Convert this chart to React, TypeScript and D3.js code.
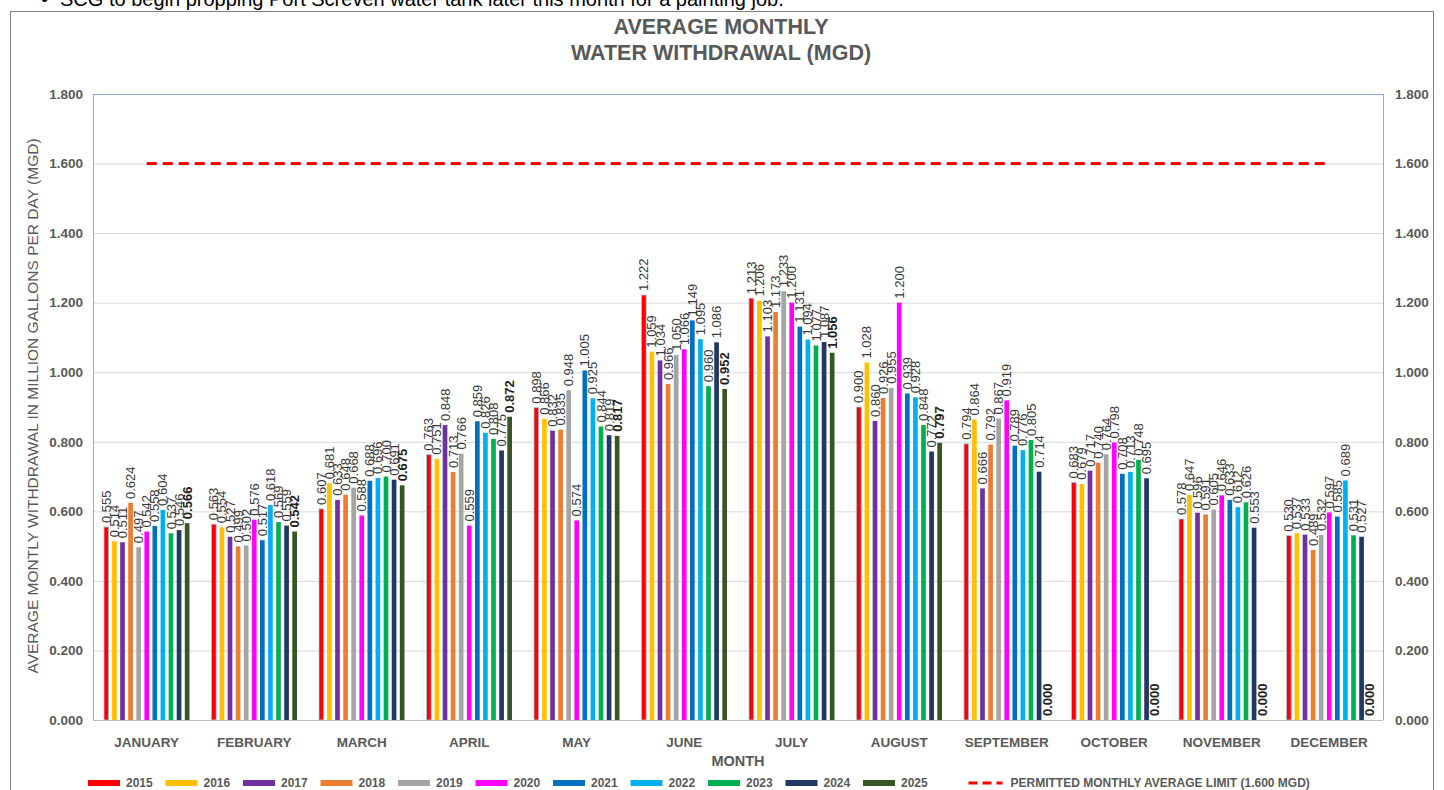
import React, { useRef, useEffect } from "react";
import * as d3 from "d3";

const MONTHS = ["JANUARY", "FEBRUARY", "MARCH", "APRIL", "MAY", "JUNE",
  "JULY", "AUGUST", "SEPTEMBER", "OCTOBER", "NOVEMBER", "DECEMBER"];
const YEARS = ["2015", "2016", "2017", "2018", "2019", "2020", "2021", "2022", "2023", "2024", "2025"];

const Y2015 = [0.555, 0.563, 0.607, 0.763, 0.898, 1.222, 1.213, 0.900, 0.794, 0.683, 0.578, 0.530];
const Y2016 = [0.514, 0.554, 0.681, 0.751, 0.866, 1.059, 1.206, 1.028, 0.864, 0.679, 0.647, 0.537];
const Y2017 = [0.511, 0.527, 0.633, 0.848, 0.832, 1.034, 1.103, 0.860, 0.666, 0.717, 0.596, 0.533];
const Y2018 = [0.624, 0.499, 0.648, 0.713, 0.835, 0.966, 1.173, 0.926, 0.792, 0.740, 0.591, 0.489];
const Y2019 = [0.497, 0.502, 0.668, 0.766, 0.948, 1.050, 1.233, 0.955, 0.867, 0.764, 0.605, 0.532];
const Y2020 = [0.542, 0.576, 0.588, 0.559, 0.574, 1.066, 1.200, 1.200, 0.919, 0.798, 0.646, 0.597];
const Y2021 = [0.558, 0.517, 0.688, 0.859, 1.005, 1.149, 1.131, 0.939, 0.789, 0.708, 0.633, 0.585];
const Y2022 = [0.604, 0.618, 0.696, 0.826, 0.925, 1.095, 1.094, 0.928, 0.776, 0.713, 0.612, 0.689];
const Y2023 = [0.537, 0.569, 0.700, 0.808, 0.844, 0.960, 1.077, 0.848, 0.805, 0.748, 0.626, 0.531];
const Y2024 = [0.546, 0.559, 0.691, 0.775, 0.819, 1.086, 1.087, 0.772, 0.714, 0.695, 0.553, 0.527];
const Y2025 = [0.566, 0.542, 0.675, 0.872, 0.817, 0.952, 1.056, 0.797, 0.000, 0.000, 0.000, 0.000];

const LIMIT = 1.6;
const LIMIT_LABEL = "PERMITTED MONTHLY AVERAGE LIMIT (1.600 MGD)";
const Y_TICKS = [0, 0.2, 0.4, 0.6, 0.8, 1.0, 1.2, 1.4, 1.6, 1.8];

const COLORS = ["#FF0000", "#FFC000", "#7030A0", "#ED7D31", "#A5A5A5", "#FF00FF",
  "#0070C0", "#00B0F0", "#00B050", "#203864", "#375623"];

const FONT = "'Liberation Sans', Arial, sans-serif";

export default function App() {
  const svgRef = useRef<SVGSVGElement | null>(null);

  useEffect(() => {
    const width = 1444;
    const height = 790;
    const svg = d3.select(svgRef.current);
    svg.selectAll("*").remove();

    const series = [Y2015, Y2016, Y2017, Y2018, Y2019, Y2020, Y2021, Y2022, Y2023, Y2024, Y2025];
    const data = YEARS.flatMap((year, i) =>
      MONTHS.map((month, m) => ({ year, month, value: series[i][m], idx: i })));

    const plot = { left: 93, right: 1383, top: 94, bottom: 720 };

    svg.append("rect").attr("width", width).attr("height", height).attr("fill", "#fff");

    // text of the page above the chart, cut off at the top
    svg.append("text")
      .attr("x", 41).attr("y", 6)
      .style("font-family", FONT).style("font-size", "20px").attr("fill", "#000")
      .text("•");
    svg.append("text")
      .attr("x", 60).attr("y", 6)
      .style("font-family", FONT).style("font-size", "20px").attr("fill", "#000")
      .text("SCG to begin propping Port Screven water tank later this month for a painting job.");

    // chart frame
    svg.append("rect")
      .attr("x", 10.5).attr("y", 11.5)
      .attr("width", 1423).attr("height", 800)
      .attr("fill", "#fff").attr("stroke", "#7f7f7f");

    const x0 = d3.scaleBand().domain(MONTHS).range([plot.left, plot.right]);
    const x1 = d3.scaleBand().domain(YEARS).range([11, x0.bandwidth() - 11]).paddingInner(0.42);
    const y = d3.scaleLinear().domain([0, 1.8]).range([plot.bottom, plot.top]);

    // gridlines
    svg.append("g")
      .selectAll("line")
      .data(Y_TICKS.slice(1))
      .enter()
      .append("line")
      .attr("x1", plot.left).attr("x2", plot.right)
      .attr("y1", d => y(d) + 0.5).attr("y2", d => y(d) + 0.5)
      .attr("stroke", d => (d === 1.8 ? "#8FAADC" : "#D9D9D9"));

    svg.append("line")
      .attr("x1", plot.left + 0.5).attr("x2", plot.left + 0.5)
      .attr("y1", plot.top).attr("y2", plot.bottom)
      .attr("stroke", "#8FAADC");
    svg.append("line")
      .attr("x1", plot.right + 0.5).attr("x2", plot.right + 0.5)
      .attr("y1", plot.top).attr("y2", plot.bottom)
      .attr("stroke", "#8FAADC");

    // bars
    svg.append("g")
      .selectAll("rect")
      .data(data)
      .enter()
      .append("rect")
      .attr("x", d => (x0(d.month) as number) + (x1(d.year) as number))
      .attr("y", d => y(d.value))
      .attr("width", x1.bandwidth())
      .attr("height", d => plot.bottom - y(d.value))
      .attr("fill", d => COLORS[d.idx])
      .attr("stroke", d => (d.idx === 0 ? "#9DC3E6" : "none"))
      .attr("stroke-width", 0.8);

    // baseline
    svg.append("line")
      .attr("x1", plot.left).attr("x2", plot.right)
      .attr("y1", plot.bottom + 0.5).attr("y2", plot.bottom + 0.5)
      .attr("stroke", "#BFBFBF");

    // data labels
    svg.append("g")
      .selectAll("text")
      .data(data)
      .enter()
      .append("text")
      .attr("transform", d => {
        const cx = (x0(d.month) as number) + (x1(d.year) as number) + x1.bandwidth() / 2;
        return `translate(${cx},${y(d.value) - 4}) rotate(-90)`;
      })
      .attr("dy", "0.35em")
      .style("font-family", FONT)
      .style("font-size", "13px")
      .style("font-weight", d => (d.idx === 10 ? "bold" : "normal"))
      .attr("fill", d => (d.idx === 10 ? "#1f1f1f" : "#3a3a3a"))
      .text(d => d3.format(".3f")(d.value));

    // permitted limit line
    const line = d3.line<string>()
      .x(d => (x0(d) as number) + x0.bandwidth() / 2)
      .y(() => y(LIMIT));
    svg.append("path")
      .attr("d", line(MONTHS))
      .attr("fill", "none")
      .attr("stroke", "#FF0000")
      .attr("stroke-width", 3)
      .attr("stroke-dasharray", "10,6");

    // y axes
    const yFmt = d3.format(".3f");
    svg.append("g")
      .selectAll("text")
      .data(Y_TICKS)
      .enter()
      .append("text")
      .attr("x", plot.left - 10).attr("y", d => y(d)).attr("dy", "0.35em")
      .attr("text-anchor", "end")
      .style("font-family", FONT).style("font-size", "13.5px").style("font-weight", "bold")
      .attr("fill", "#595959")
      .text(d => yFmt(d));
    svg.append("g")
      .selectAll("text")
      .data(Y_TICKS)
      .enter()
      .append("text")
      .attr("x", plot.right + 12).attr("y", d => y(d)).attr("dy", "0.35em")
      .attr("text-anchor", "start")
      .style("font-family", FONT).style("font-size", "13.5px").style("font-weight", "bold")
      .attr("fill", "#595959")
      .text(d => yFmt(d));

    // month labels
    svg.append("g")
      .selectAll("text")
      .data(MONTHS)
      .enter()
      .append("text")
      .attr("x", d => (x0(d) as number) + x0.bandwidth() / 2)
      .attr("y", 742).attr("dy", "0.35em")
      .attr("text-anchor", "middle")
      .style("font-family", FONT).style("font-size", "13.5px").style("font-weight", "bold")
      .attr("fill", "#595959")
      .text(d => d);

    svg.append("text")
      .attr("x", (plot.left + plot.right) / 2).attr("y", 761).attr("dy", "0.35em")
      .attr("text-anchor", "middle")
      .style("font-family", FONT).style("font-size", "14.5px").style("font-weight", "bold")
      .attr("fill", "#595959")
      .text("MONTH");

    svg.append("text")
      .attr("transform", `translate(33,${(plot.top + plot.bottom) / 2 - 1}) rotate(-90)`)
      .attr("text-anchor", "middle").attr("dy", "0.35em")
      .style("font-family", FONT).style("font-size", "15.5px")
      .attr("fill", "#595959")
      .text("AVERAGE MONTLY WITHDRAWAL IN MILLION GALLONS PER DAY (MGD)");

    // title
    const title = svg.append("text")
      .attr("text-anchor", "middle")
      .style("font-family", FONT).style("font-size", "21.5px").style("font-weight", "bold")
      .attr("fill", "#595959");
    title.append("tspan").attr("x", 721).attr("y", 34).text("AVERAGE MONTHLY");
    title.append("tspan").attr("x", 721).attr("y", 60).text("WATER WITHDRAWAL (MGD)");

    // legend
    const lg = svg.append("g").attr("transform", "translate(88,783)");
    const step = 77.5;
    YEARS.forEach((yr, i) => {
      const g = lg.append("g").attr("transform", `translate(${i * step},0)`);
      g.append("rect").attr("x", 0).attr("y", -3).attr("width", 32).attr("height", 6)
        .attr("fill", COLORS[i]);
      g.append("text").attr("x", 38).attr("y", 0).attr("dy", "0.35em")
        .style("font-family", FONT).style("font-size", "12px").style("font-weight", "bold")
        .attr("fill", "#595959").text(yr);
    });
    const lim = lg.append("g").attr("transform", `translate(${11 * step + 28},0)`);
    lim.append("line").attr("x1", 0).attr("x2", 34).attr("y1", 0).attr("y2", 0)
      .attr("stroke", "#FF0000").attr("stroke-width", 3).attr("stroke-dasharray", "9,5");
    lim.append("text").attr("x", 42).attr("y", 0).attr("dy", "0.35em")
      .style("font-family", FONT).style("font-size", "12px").style("font-weight", "bold")
      .attr("fill", "#595959").text(LIMIT_LABEL);
  }, []);

  return (
    <svg
      ref={svgRef}
      width={1444}
      height={790}
      style={{ position: "absolute", left: 0, top: 0, display: "block" }}
    />
  );
}
